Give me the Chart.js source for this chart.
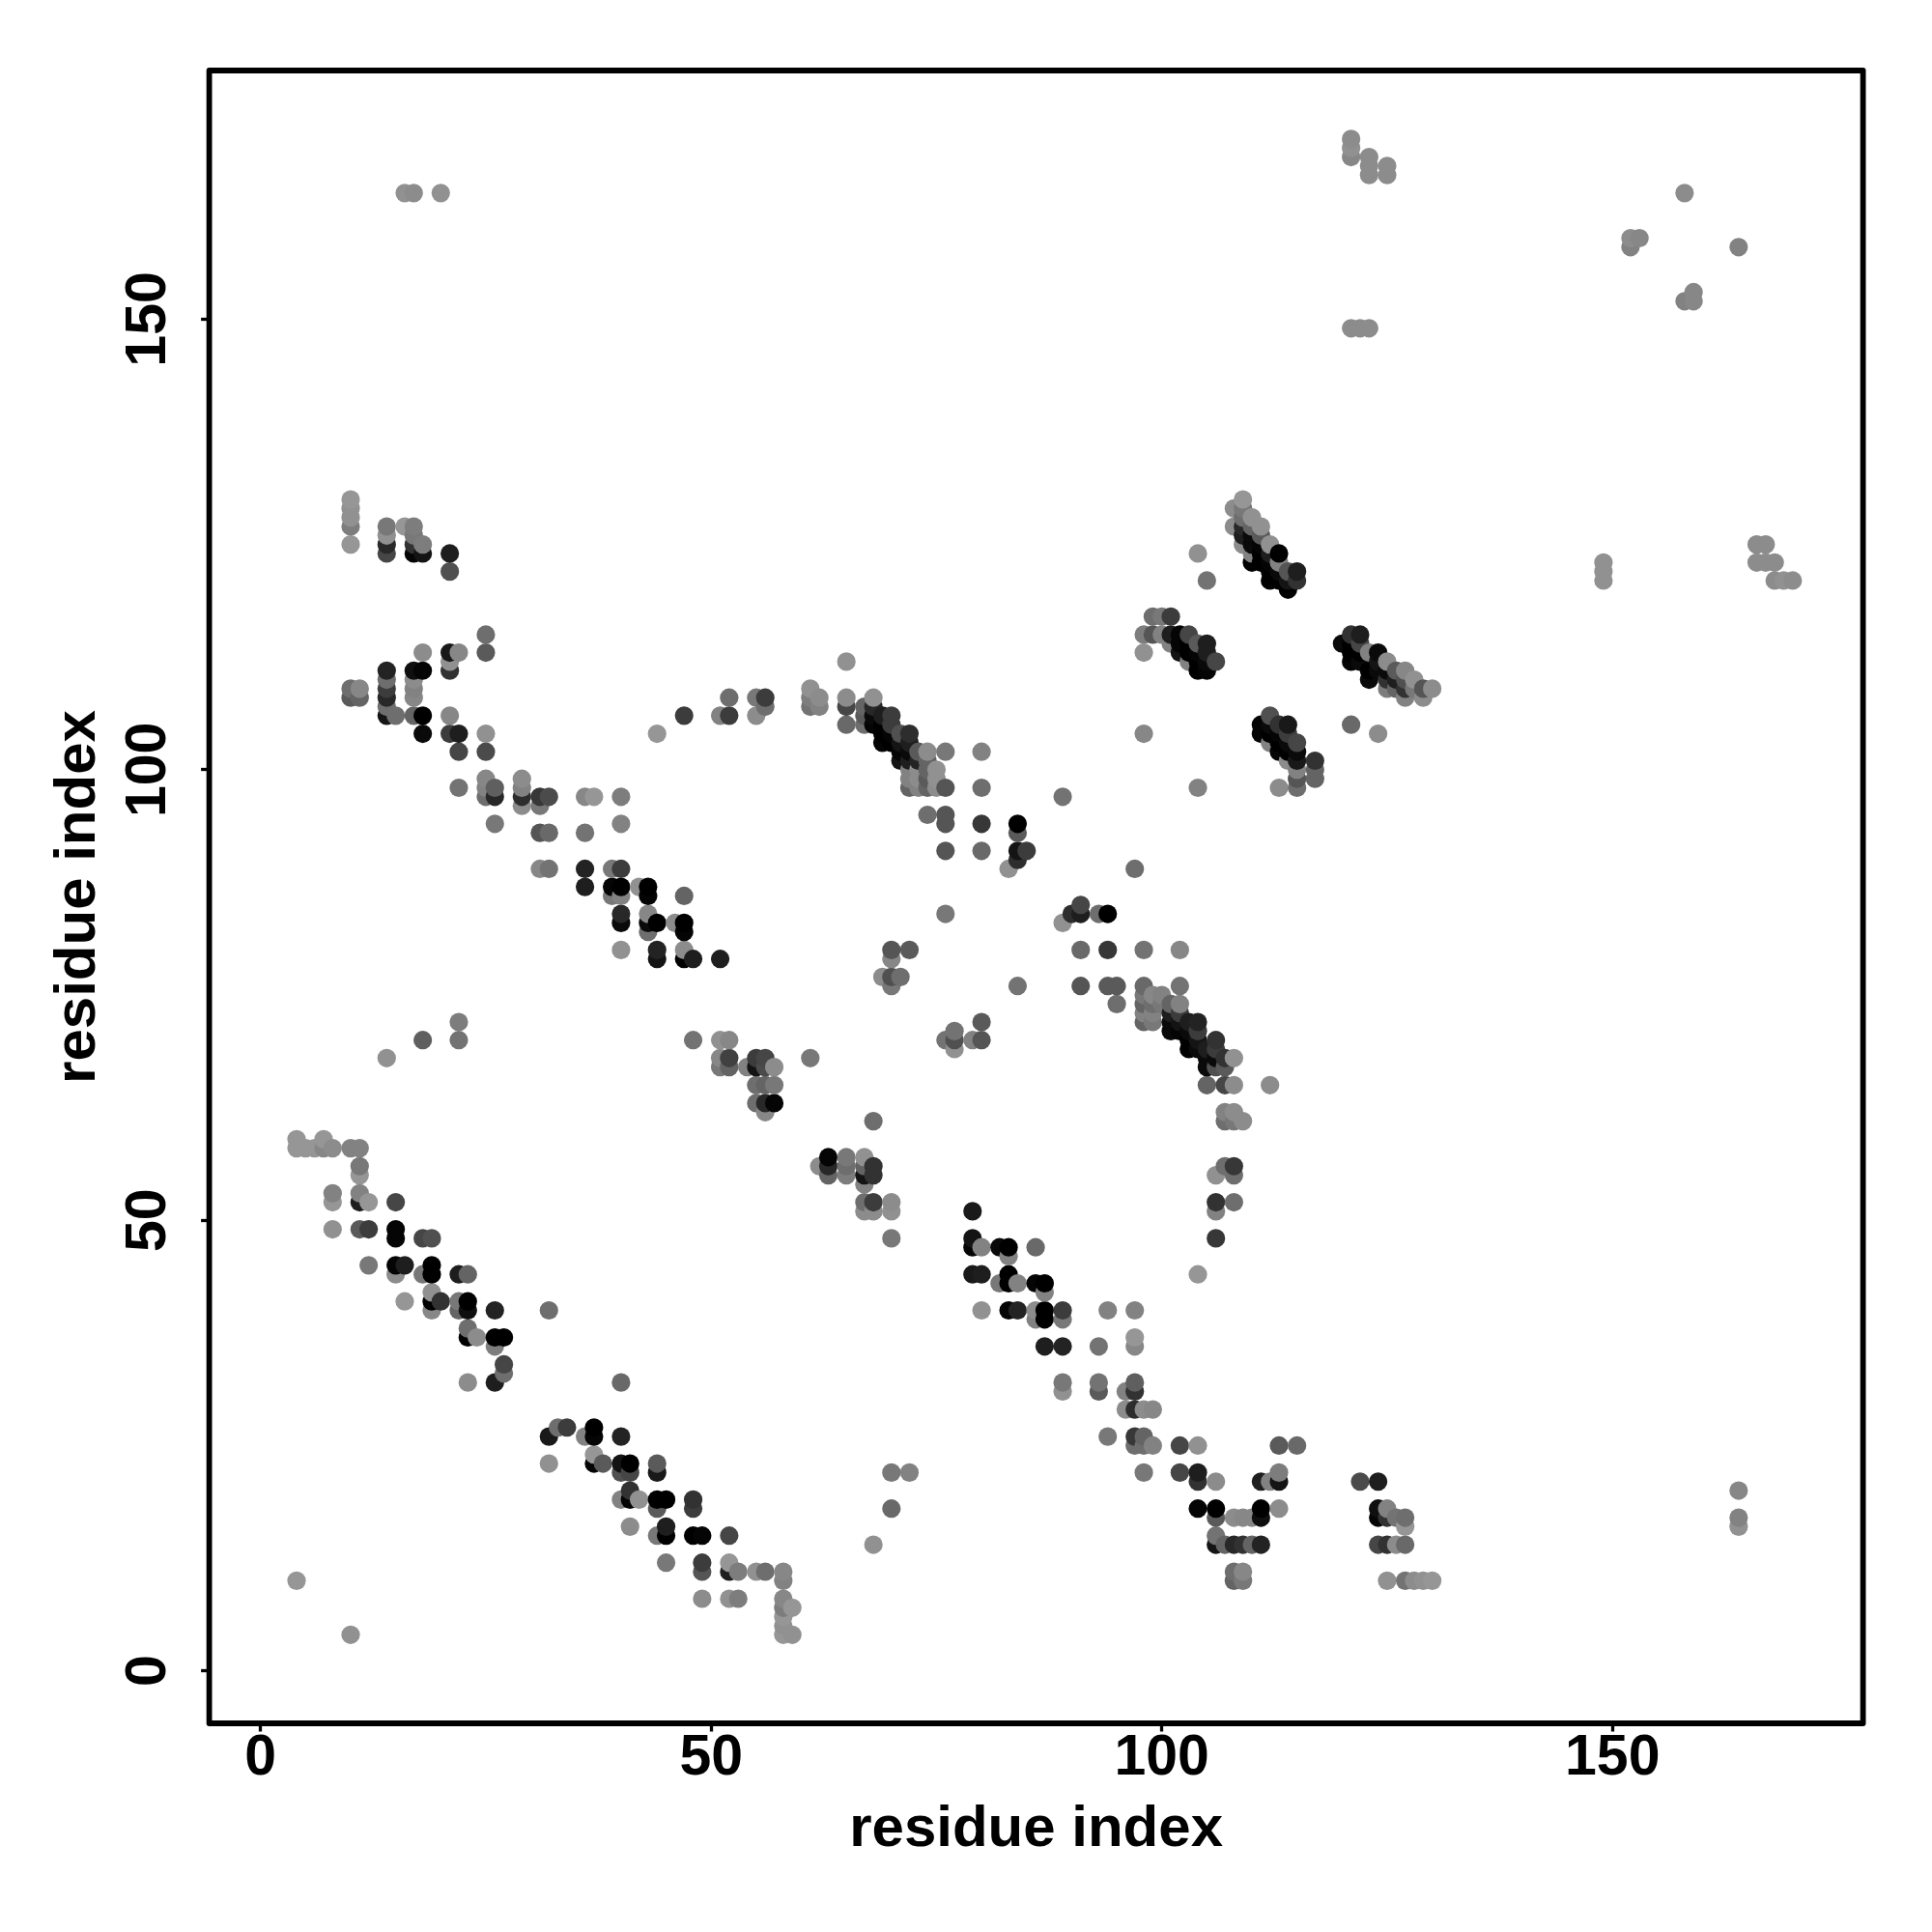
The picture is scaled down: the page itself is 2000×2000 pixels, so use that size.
<!DOCTYPE html>
<html>
<head>
<meta charset="utf-8">
<title>residue contact map</title>
<script src="https://cdn.jsdelivr.net/npm/chart.js@4"></script>
<style>
  html, body { margin: 0; padding: 0; background: #fff; }
  canvas { display: block; }
</style>
</head>
<body>
<canvas id="contactChart" width="2000" height="2000"></canvas>
<script>
// each entry: residue x, residue y, grey level of the dot (0 = black)
const bandA = [[4,59,150],[4,58,150],[5,58,150],[6,58,150],[7,59,150],[7,58,135],[8,58,140],[10,58,130],[11,58,130],[11,56,120],[11,55,150],[8,53,130],[8,52,150],[11,53,130],[11,52,30],[12,52,150],[15,52,70],[8,49,145],[11,49,90],[12,49,60],[15,49,5],[15,48,5],[18,48,70],[19,48,80],[12,45,120],[15,45,5],[16,45,30],[15,44,140],[19,45,0],[19,44,0],[18,44,120],[22,44,30],[23,44,100],[16,41,150],[19,42,145],[19,41,0],[20,41,50],[19,40,135],[22,41,120],[23,41,0],[22,40,100],[23,40,15],[26,40,35],[32,40,110],[23,38,110],[23,37,0],[24,37,140],[26,37,0],[27,37,0],[26,36,125],[27,34,70],[27,33,110],[23,32,140],[26,32,30],[40,32,105]];
const bandB = [[32,26,25],[33,27,110],[34,27,60],[36,26,130],[37,27,0],[37,26,5],[40,26,35],[32,23,145],[37,24,150],[37,23,5],[38,23,90],[40,23,20],[41,23,0],[40,22,80],[41,22,70],[44,23,90],[44,22,25],[41,20,50],[40,19,130],[41,19,5],[42,19,145],[44,19,0],[45,19,0],[44,18,90],[48,19,50],[48,18,60],[41,16,140],[44,15,120],[45,16,30],[45,15,0],[48,15,0],[49,15,5],[52,15,70],[45,12,120],[49,12,60],[49,11,85],[52,12,150],[52,11,30],[53,11,125],[55,11,145],[56,11,110],[58,11,135],[58,10,130],[49,8,140],[52,8,145],[53,8,125],[58,8,135],[58,7,125],[59,7,150],[58,6,150],[58,5,145],[58,4,150],[59,4,145]];
const strayLow = [[4,10,150],[10,4,145],[68,14,145],[70,18,105],[70,22,120],[72,22,130],[164,20,135],[164,17,130],[164,16,145]];
const bandC = [[62,56,140],[63,57,5],[63,56,40],[63,55,100],[65,57,120],[65,56,110],[65,55,125],[67,57,145],[67,56,100],[67,55,20],[68,56,50],[68,55,50],[67,54,130],[67,52,110],[68,52,60],[67,51,140],[68,51,140],[70,52,140],[70,51,145],[70,48,120],[68,61,110]];
const bandD = [[79,51,25],[79,48,20],[79,47,5],[80,47,130],[82,47,10],[83,47,0],[83,46,130],[86,47,105],[79,44,25],[80,44,30],[83,44,0],[83,43,0],[82,43,120],[84,43,130],[86,43,5],[87,43,0],[87,42,130],[80,40,145],[83,40,5],[84,40,35],[86,40,140],[86,39,130],[87,40,0],[87,39,0],[89,40,60],[89,39,120],[94,40,130],[97,40,130],[97,37,150],[97,36,135],[87,36,30],[89,36,35],[93,36,115],[89,32,120],[89,31,145],[93,32,115],[93,31,90],[97,32,95],[97,31,50],[96,31,130],[96,29,140],[97,29,45],[98,29,140],[99,29,135],[94,26,120],[97,26,55],[98,26,100],[97,25,110],[98,25,110],[99,25,130],[102,25,70],[104,25,145],[113,25,90],[115,25,105],[98,22,120],[102,22,70],[104,22,30],[104,21,50],[106,21,140],[111,21,30],[112,21,130],[113,21,20],[113,22,125]];
const bandE = [[122,21,75],[124,21,30],[104,18,5],[106,18,0],[106,17,90],[108,17,140],[109,17,135],[110,17,135],[111,18,0],[111,17,15],[113,18,140],[124,18,15],[124,17,5],[125,18,130],[125,17,50],[126,17,115],[127,17,110],[127,16,150],[106,15,115],[106,14,20],[107,14,100],[108,14,40],[109,14,50],[110,14,100],[111,14,35],[124,14,70],[125,14,50],[126,14,140],[127,14,105],[108,11,110],[109,11,135],[108,10,100],[109,10,120],[125,10,145],[127,10,115],[128,10,140],[129,10,145],[130,10,150]];
const armF = [[108,56,55],[107,56,110],[106,55,145],[108,55,110],[106,52,50],[108,52,110],[106,51,130],[106,48,55],[104,44,150],[107,62,130],[108,62,140],[107,61,110],[108,61,120],[109,61,140],[105,65,100],[107,65,70],[108,65,140],[112,65,140]];
const groupG = [[10,130,150],[10,129,145],[10,128,145],[10,127,125],[10,125,150],[14,127,120],[14,126,145],[14,125,40],[14,124,70],[16,127,150],[17,127,125],[17,126,120],[17,125,50],[17,124,5],[18,125,125],[18,124,20],[21,124,30],[21,122,80]];
const groupH = [[25,115,110],[25,113,90],[18,113,140],[21,113,25],[22,113,135],[21,112,145],[21,111,50],[14,111,35],[14,110,110],[14,109,60],[14,108,40],[14,107,110],[14,106,20],[15,106,110],[17,111,15],[18,111,5],[17,110,140],[17,109,130],[17,108,135],[17,106,100],[18,106,0],[10,109,110],[10,108,90],[11,109,135],[11,108,100],[21,106,135],[18,104,10],[21,104,60],[22,104,30],[25,104,145],[22,102,70],[25,102,75]];
const bandI = [[22,98,115],[25,99,135],[25,98,130],[25,97,110],[26,98,95],[26,97,40],[29,99,140],[29,98,130],[29,97,45],[29,96,140],[31,97,55],[31,96,120],[32,97,75],[36,97,135],[37,97,150],[40,97,125],[26,94,120],[31,93,85],[32,93,105],[36,93,115],[40,94,130],[31,89,135],[32,89,115],[36,89,35],[36,87,30],[39,89,120],[40,89,60],[39,87,5],[40,87,0],[39,86,120],[40,86,130],[42,87,145],[43,87,0],[43,86,5],[47,86,100],[40,84,40],[40,83,10],[43,84,135],[43,83,10],[44,83,0],[43,82,110],[46,83,140],[47,83,0],[47,82,5],[40,80,145],[44,80,35],[44,79,20],[47,80,140],[47,79,0],[48,79,30],[51,79,30]];
const bandJ = [[14,68,145],[18,70,95],[22,72,125],[22,70,115],[48,70,115],[51,70,145],[52,70,135],[51,68,135],[51,67,120],[52,68,65],[52,67,100],[54,67,130],[55,68,60],[55,67,20],[56,68,70],[56,67,75],[57,67,140],[61,68,120],[55,65,110],[56,65,100],[57,65,120],[55,63,110],[56,63,40],[57,63,5],[56,62,135]];
const arcK = [[47,106,60],[51,106,130],[52,106,60],[52,108,110],[55,108,120],[56,108,60],[56,107,110],[55,106,140],[44,104,150],[61,109,145],[61,108,125],[61,107,115],[62,108,140],[62,107,130],[65,112,145],[65,108,140],[65,107,70],[65,105,105]];
const ridgeL = [[68,108,145],[67,107,100],[67,106,90],[67,105,110],[68,107,40],[68,106,10],[68,105,5],[69,106,30],[69,105,0],[69,104,0],[69,103,5],[70,106,60],[70,105,60],[70,104,5],[70,103,0],[71,104,80],[71,103,20],[71,102,5],[71,101,20],[72,104,45],[72,103,30],[72,102,10],[72,101,30],[73,102,90],[73,101,35],[72,100,130],[73,100,140],[72,99,130],[73,99,140],[72,98,100],[73,98,130],[74,102,140],[74,101,100],[74,100,100],[74,99,90],[74,98,100],[75,100,145],[75,99,145],[75,98,140],[76,102,120],[76,98,85],[80,102,130],[80,98,110],[74,95,110],[76,95,85],[76,94,85],[80,94,55],[84,94,0],[84,93,90],[76,91,85],[80,91,105],[84,91,20],[85,91,60],[84,90,45],[83,89,145]];
const crossM = [[89,97,115],[97,89,110],[76,84,120],[91,85,70],[90,84,45],[91,84,30],[89,83,145],[93,84,110],[94,84,0],[70,80,85],[72,80,90],[70,79,135],[69,77,140],[70,77,80],[71,77,110],[70,76,120],[84,76,115],[91,80,105],[94,80,55],[98,80,115],[102,80,135],[91,76,85],[94,76,90],[95,76,90],[95,74,110],[98,76,105],[102,76,115],[76,70,115],[77,71,115],[77,70,80],[77,69,145],[79,70,130],[80,72,90],[80,70,85]];
const ridgeN = [[98,75,120],[98,74,100],[98,73,130],[98,72,100],[99,75,135],[99,74,110],[99,73,130],[99,72,120],[100,75,130],[100,74,120],[101,74,100],[101,73,30],[101,72,10],[101,71,10],[102,74,130],[102,73,60],[102,72,20],[102,71,5],[103,72,30],[103,71,10],[103,70,0],[103,69,0],[104,72,35],[104,71,60],[104,70,20],[104,69,10],[105,69,30],[105,68,10],[105,67,10],[106,70,50],[106,69,60],[106,68,10],[106,67,80],[107,68,50],[107,67,90],[108,68,145]];
const ridgeO = [[109,130,150],[108,129,140],[109,129,120],[108,127,140],[109,128,110],[109,127,40],[109,126,30],[109,125,140],[110,128,145],[110,127,100],[110,126,10],[110,125,10],[110,124,130],[110,123,0],[111,127,145],[111,126,90],[111,125,5],[111,124,0],[111,123,0],[112,125,145],[112,124,30],[112,123,5],[112,122,0],[112,121,0],[113,124,0],[113,123,130],[113,122,10],[113,121,0],[114,122,85],[114,121,20],[114,120,0],[115,122,30],[115,121,50],[104,124,145],[105,121,115]];
const ridgeP = [[99,117,110],[100,117,120],[101,117,60],[98,115,125],[99,115,85],[100,115,130],[101,115,30],[102,115,5],[103,115,70],[98,113,145],[101,114,130],[102,114,5],[102,113,20],[103,114,0],[103,113,0],[104,114,90],[104,113,5],[103,112,130],[104,112,0],[104,111,0],[105,114,30],[105,113,30],[105,112,10],[105,111,5],[106,112,70]];
const ridgeQ = [[121,115,50],[122,115,30],[120,114,10],[121,114,0],[122,114,70],[121,113,0],[122,113,0],[121,112,5],[122,112,10],[123,113,130],[124,113,10],[123,111,0],[123,110,10],[124,112,20],[124,111,10],[125,112,140],[125,111,10],[125,110,50],[125,109,125],[126,111,90],[126,110,30],[126,109,100],[127,111,135],[127,110,80],[127,109,50],[127,108,130],[128,110,145],[128,109,120],[129,109,85],[129,108,140],[130,109,140],[121,105,105],[124,104,140],[98,104,135],[104,98,130]];
const ridgeR = [[112,106,80],[111,105,5],[111,104,5],[112,105,10],[112,104,0],[112,103,130],[113,105,50],[113,104,5],[113,103,0],[113,102,5],[114,105,25],[114,104,60],[114,103,10],[114,102,0],[114,101,140],[115,103,70],[115,102,10],[115,101,25],[115,100,130],[115,99,85],[115,98,110],[117,101,50],[117,100,100],[117,99,100],[113,98,140]];
const strayHigh = [[16,164,145],[17,164,140],[20,164,145],[121,170,140],[121,169,145],[121,168,135],[123,168,140],[123,167,140],[123,166,140],[125,167,140],[125,166,140],[158,164,140],[153,159,135],[152,159,140],[152,158,130],[164,158,130],[159,153,135],[158,152,130],[159,152,135],[121,149,140],[122,149,140],[123,149,140],[149,123,145],[149,122,145],[149,121,145],[166,125,140],[167,125,140],[166,123,140],[167,123,140],[168,123,140],[168,121,140],[169,121,145],[170,121,140]];

const tickValues = [0, 50, 100, 150];
const axisTitle = 'residue index';

// drawn left to right, bottom to top, same as the lighter dots sitting on top
const contacts = [].concat(bandA, bandB, strayLow, bandC, bandD, bandE, armF, groupG, groupH, bandI, bandJ, arcK, ridgeL, crossM, ridgeN, ridgeO, ridgeP, ridgeQ, ridgeR, strayHigh)
    .sort((a, b) => a[0] - b[0] || a[1] - b[1]);

const tickFont = { family: '"Liberation Sans"', size: 59, weight: 'bold' };
const titleFont = { family: '"Liberation Sans"', size: 60, weight: 'bold' };

// black frame round the plot area
const frame = {
    id: 'frame',
    afterDatasetsDraw(chart) {
        const { ctx, chartArea: a } = chart;
        ctx.save();
        ctx.strokeStyle = '#000';
        ctx.lineWidth = 5.8;
        ctx.lineJoin = 'round';
        ctx.strokeRect(a.left, a.top, a.right - a.left, a.bottom - a.top);
        ctx.restore();
    }
};

function axisOptions(min, max) {
    return {
        type: 'linear',
        min: min,
        max: max,
        afterBuildTicks: axis => { axis.ticks = tickValues.map(v => ({ value: v })); },
        border: { display: false },
        grid: { drawOnChartArea: false, drawTicks: true, tickLength: 8.5, tickWidth: 3.3, tickColor: '#000' },
        ticks: { color: '#000', font: tickFont, autoSkip: false },
        title: { display: true, text: axisTitle, color: '#000', font: titleFont }
    };
}

const xAxis = axisOptions(-5.69, 177.8);
xAxis.ticks.padding = -7;
xAxis.ticks.maxRotation = 0;
xAxis.title.padding = { top: 0, bottom: 70 };
xAxis.afterFit = axis => { axis.height = 216; };

const yAxis = axisOptions(-5.83, 177.6);
yAxis.ticks.minRotation = 90;
yAxis.ticks.maxRotation = 90;
yAxis.ticks.crossAlign = 'center';
yAxis.ticks.padding = 4;
yAxis.title.padding = { top: 45, bottom: 45 };
yAxis.afterFit = axis => { axis.width = 216.6; };

new Chart(document.getElementById('contactChart'), {
    type: 'scatter',
    data: {
        datasets: [{
            data: contacts.map(c => ({ x: c[0], y: c[1] })),
            pointRadius: 9.6,
            pointBorderWidth: 0,
            pointBackgroundColor: contacts.map(c => `rgb(${c[2]},${c[2]},${c[2]})`)
        }]
    },
    options: {
        responsive: false,
        animation: false,
        devicePixelRatio: 1,
        layout: { padding: { left: 0, right: 71.4, top: 73, bottom: 0 } },
        plugins: { legend: { display: false }, tooltip: { enabled: false } },
        scales: { x: xAxis, y: yAxis }
    },
    plugins: [frame]
});
</script>
</body>
</html>
